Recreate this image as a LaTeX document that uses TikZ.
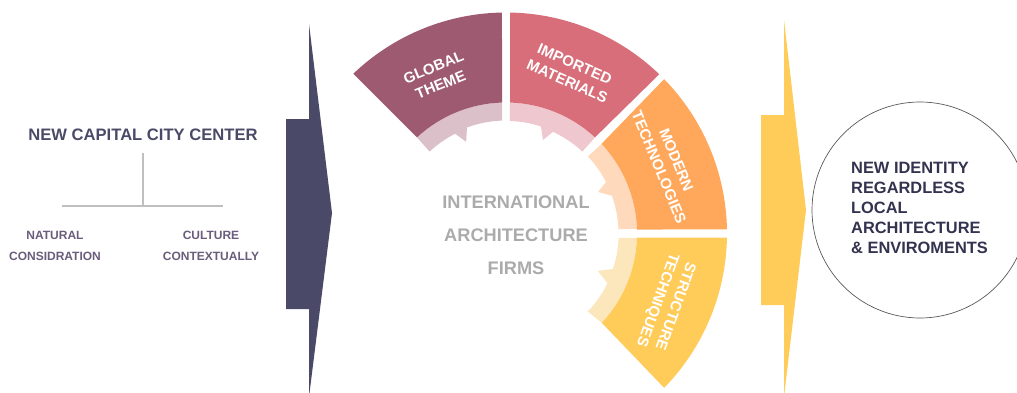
\documentclass[tikz,border=0pt]{standalone}
\usepackage{fontspec}
\setmainfont{Liberation Sans}
\definecolor{navy}{HTML}{4A4A68}
\definecolor{gold}{HTML}{FFCC5A}
\definecolor{cGlobal}{HTML}{9E5A70}
\definecolor{cImported}{HTML}{D86E79}
\definecolor{cModern}{HTML}{FFA85C}
\definecolor{lGlobal}{HTML}{DBBFC9}
\definecolor{lImported}{HTML}{EFC7CF}
\definecolor{lModern}{HTML}{FFD9BB}
\definecolor{lStructure}{HTML}{FCE7BD}
\definecolor{txtGrey}{HTML}{ABABAB}
\definecolor{txtPurple}{HTML}{6A5C7C}
\definecolor{txtDark}{HTML}{33334F}
\definecolor{ruleGrey}{HTML}{BFBFBF}
\tikzset{
  x=1pt,y=1pt,
  segtext/.style={font=\bfseries\fontsize{15}{18.8}\selectfont,text=white,align=center,inner sep=0pt},
  subtext/.style={font=\bfseries\fontsize{12}{21}\selectfont,text=txtPurple,align=center,inner sep=0pt},
  centertext/.style={font=\bfseries\fontsize{18.2}{33}\selectfont,text=txtGrey,align=center,inner sep=0pt},
  titletext/.style={font=\bfseries\fontsize{16.6}{20}\selectfont,text=navy,inner sep=0pt},
  rule/.style={draw=ruleGrey,line width=2pt},
}
\begin{document}
\begin{tikzpicture}
\useasboundingbox (0,0) rectangle (1017,392);
% big arrows
\fill[navy] (286,273) -- (309,273) -- (309,368) -- (332,179) -- (309,-5) -- (309,83) -- (286,83) -- cycle;
\fill[gold] (761,277) -- (784,277) -- (784,372) -- (806,182) -- (784,-5) -- (784,87) -- (761,87) -- cycle;
% ring segments
\begin{scope}[shift={(506,158.5)}]
  \fill[lGlobal] (91.75:131) arc[start angle=91.75,end angle=132.8,radius=131]
    -- (133:112) arc[start angle=133,end angle=117,radius=112]
    -- (113.5:100) -- (110.2:113) arc[start angle=110.2,end angle=92,radius=113] -- cycle;
  \fill[cGlobal] (133.7:221) arc[start angle=133.7,end angle=91.04,radius=221]
    -- (91.75:131) arc[start angle=91.75,end angle=132.8,radius=131] -- cycle;
  \fill[lImported] (88.25:131) arc[start angle=88.25,end angle=47.2,radius=131]
    -- (47:112) arc[start angle=47,end angle=65.2,radius=112]
    -- (68.4:100.5) -- (71.9:112.6) arc[start angle=71.9,end angle=88,radius=112.6] -- cycle;
  \fill[cImported] (46.1:221) arc[start angle=46.1,end angle=88.96,radius=221]
    -- (88.25:131) arc[start angle=88.25,end angle=47.2,radius=131] -- cycle;
  \fill[lModern] (43.2:131) arc[start angle=43.2,end angle=2,radius=131]
    -- (2.2:112.5) arc[start angle=2.2,end angle=19.6,radius=112.5]
    -- (24.3:101) -- (27.2:112.5) arc[start angle=27.2,end angle=43.2,radius=112.5] -- cycle;
  \fill[cModern] (44.3:221) arc[start angle=44.3,end angle=1.04,radius=221]
    -- (1.75:131) arc[start angle=1.75,end angle=43.2,radius=131] -- cycle;
  \fill[lStructure] (-2:131) arc[start angle=-2,end angle=-43,radius=131]
    -- (-43.6:113) arc[start angle=-43.6,end angle=-26.1,radius=113]
    -- (-22.2:99) -- (-18.4:112.7) arc[start angle=-18.4,end angle=-2.2,radius=112.7] -- cycle;
  \fill[gold] (-44.3:221) arc[start angle=-44.3,end angle=-1.04,radius=221]
    -- (-1.75:131) arc[start angle=-1.75,end angle=-43,radius=131] -- cycle;
\end{scope}
% segment labels
\node[segtext,rotate=22] (global) at (437,316) {GLOBAL\\THEME};
\node[segtext,rotate=-23.5] (imported) at (571,319.5) {IMPORTED\\MATERIALS};
\node[segtext,rotate=-67.5] (modern) at (667.7,228.5) {MODERN\\TECHNOLOGIES};
\node[segtext,rotate=-110] (structure) at (666,89) {STRUCTURE\\TECHNIQUES};
\node[centertext] (firms) at (516,157) {INTERNATIONAL\\ARCHITECTURE\\FIRMS};
% left block
\node[titletext] (title) at (143,257) {NEW CAPITAL CITY CENTER};
\coordinate (top) at (143,239);
\coordinate (joint) at (143,186);
\coordinate (left) at (62,186);
\coordinate (right) at (223,186);
\draw[rule] (top) -- (joint);
\draw[rule] (left) -- (right);
\node[subtext] (natural) at (55,146.5) {NATURAL\\CONSIDRATION};
\node[subtext] (culture) at (211,146.5) {CULTURE\\CONTEXTUALLY};
% circle
\node[circle,draw=black!65,line width=0.7pt,minimum size=216pt,inner sep=0pt] (identity) at (920,182) {};
\node[anchor=west,align=left,inner sep=0pt,text=txtDark,font=\bfseries\fontsize{16.4}{20.2}\selectfont] (idtext) at (851,184) {NEW IDENTITY\\REGARDLESS\\LOCAL\\ARCHITECTURE\\\& ENVIROMENTS};
\end{tikzpicture}
\end{document}
